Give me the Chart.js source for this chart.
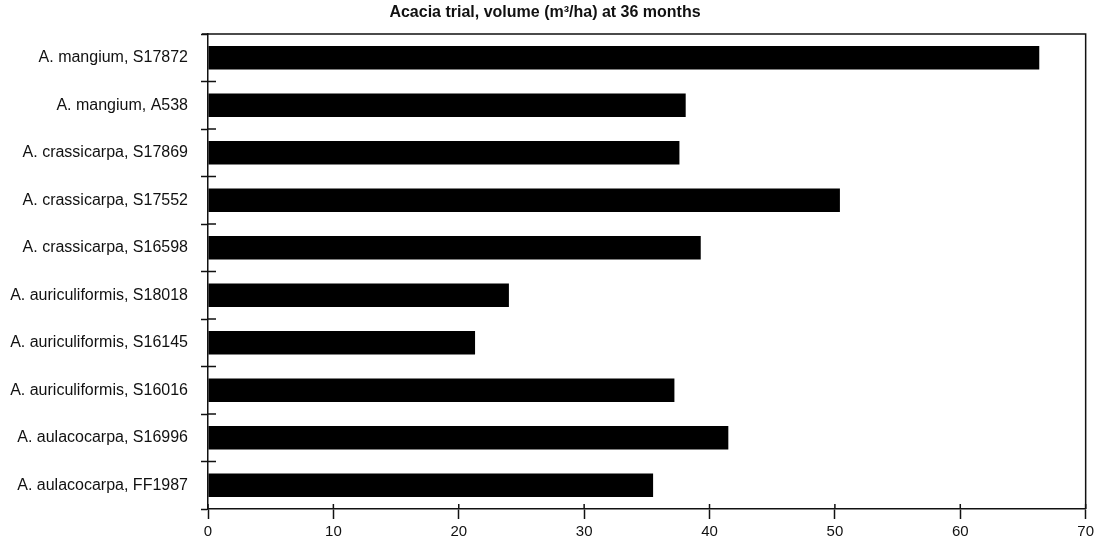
<!DOCTYPE html>
<html>
<head>
<meta charset="utf-8">
<title>Acacia trial</title>
<script src="https://cdn.jsdelivr.net/npm/chart.js@4"></script>
<style>
  html, body { margin: 0; padding: 0; background: #fff; }
  #wrap { width: 1098px; height: 542px; }
</style>
</head>
<body>
<div id="wrap"><canvas id="chart" width="1098" height="542"></canvas></div>
<script>
// Acacia trial, volume at 36 months

const categories = [
  'A. mangium, S17872',
  'A. mangium, A538',
  'A. crassicarpa, S17869',
  'A. crassicarpa, S17552',
  'A. crassicarpa, S16598',
  'A. auriculiformis, S18018',
  'A. auriculiformis, S16145',
  'A. auriculiformis, S16016',
  'A. aulacocarpa, S16996',
  'A. aulacocarpa, FF1987'
];

const volumes = [66.3, 38.1, 37.6, 50.4, 39.3, 24.0, 21.3, 37.2, 41.5, 35.5];

const xTicks = [0, 10, 20, 30, 40, 50, 60, 70];

const fontFamily = "'Liberation Sans', Arial, Helvetica, sans-serif";

// short inner ticks plus the top/right frame
const frameAndTicks = {
  id: 'frameAndTicks',
  afterDraw(chart) {
    const { ctx, chartArea, scales } = chart;
    const x = scales.x;
    const y = scales.y;
    ctx.save();
    ctx.strokeStyle = '#111';
    ctx.lineWidth = 1.5;

    // frame top and right
    ctx.beginPath();
    ctx.moveTo(chartArea.left - 6, chartArea.top);
    ctx.lineTo(chartArea.right, chartArea.top);
    ctx.lineTo(chartArea.right, chartArea.bottom);
    ctx.stroke();

    // y boundary ticks reaching into the plot
    ctx.beginPath();
    for (let i = 0; i < categories.length - 1; i++) {
      const py = (y.getPixelForValue(i) + y.getPixelForValue(i + 1)) / 2;
      ctx.moveTo(chartArea.left, py);
      ctx.lineTo(chartArea.left + 8, py);
    }
    // x ticks reaching into the plot
    xTicks.forEach(v => {
      const px = x.getPixelForValue(v);
      ctx.moveTo(px, chartArea.bottom);
      ctx.lineTo(px, chartArea.bottom - 5);
    });
    ctx.stroke();
    ctx.restore();
  }
};

new Chart(document.getElementById('chart'), {
  type: 'bar',
  data: {
    labels: categories,
    datasets: [{
      label: 'Volume (m³/ha)',
      data: volumes,
      backgroundColor: '#000',
      borderWidth: 0,
      barPercentage: 0.49,
      categoryPercentage: 1
    }]
  },
  options: {
    indexAxis: 'y',
    responsive: false,
    animation: false,
    devicePixelRatio: 1,
    layout: {
      padding: { left: 0, right: 8, top: 0, bottom: 0 }
    },
    plugins: {
      legend: { display: false },
      tooltip: { enabled: false },
      title: {
        display: true,
        text: 'Acacia trial, volume (m³/ha) at 36 months',
        color: '#111',
        font: { family: fontFamily, size: 16, weight: 'bold' },
        padding: { top: 3, bottom: 11.8 }
      }
    },
    scales: {
      x: {
        type: 'linear',
        min: 0,
        max: 70,
        afterBuildTicks: (scale) => {
          scale.ticks = xTicks.map(v => ({ value: v }));
        },
        afterFit: (scale) => { scale.height = 33; },
        border: { display: true, color: '#111', width: 1.5 },
        grid: {
          drawOnChartArea: false,
          drawTicks: true,
          tickLength: 10,
          tickWidth: 1.5,
          tickColor: '#111'
        },
        ticks: {
          color: '#111',
          padding: 4,
          maxRotation: 0,
          font: { family: fontFamily, size: 15 }
        }
      },
      y: {
        type: 'category',
        afterFit: (scale) => { scale.width = 208; },
        border: { display: true, color: '#111', width: 1.5 },
        grid: {
          offset: true,
          drawOnChartArea: false,
          drawTicks: true,
          tickLength: 7,
          tickWidth: 1.5,
          tickColor: '#111'
        },
        ticks: {
          color: '#111',
          padding: 13,
          autoSkip: false,
          font: { family: fontFamily, size: 16 }
        }
      }
    }
  },
  plugins: [frameAndTicks]
});
</script>
</body>
</html>
